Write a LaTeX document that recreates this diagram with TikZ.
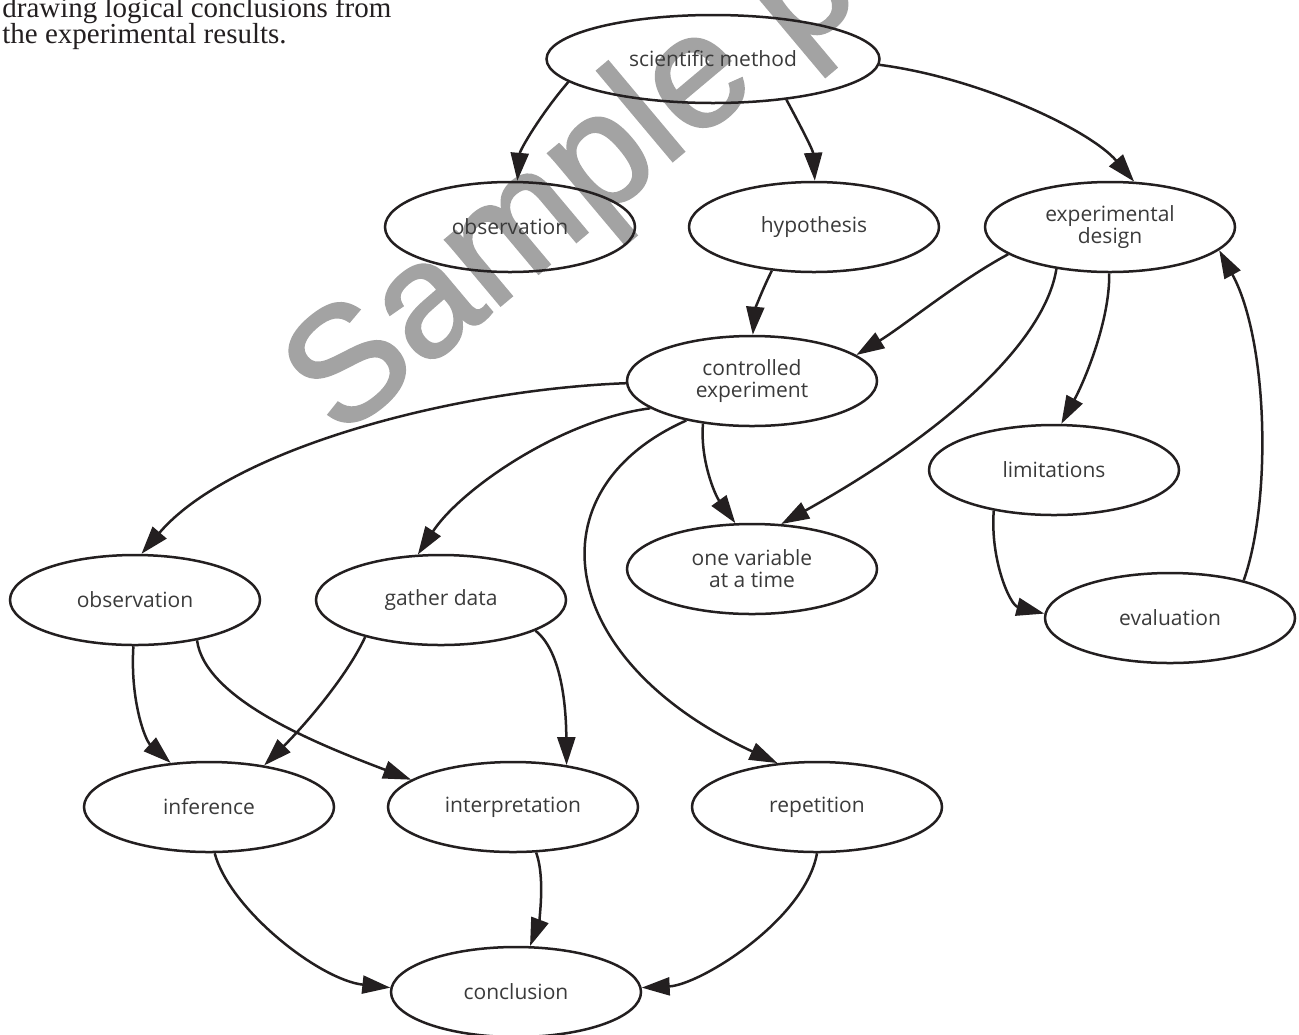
\documentclass[tikz,border=0pt]{standalone}
\usepackage{fontspec}
\setmainfont{Liberation Serif}
\newfontfamily\osans{Open Sans}
\newfontfamily\wmfont[FakeBold=1.6]{Liberation Sans}
\usetikzlibrary{shapes.geometric,arrows.meta}
\definecolor{ink}{HTML}{231F20}
\definecolor{txt}{HTML}{3A3A3A}
\definecolor{wmgray}{HTML}{A3A3A3}
\begin{document}
\begin{tikzpicture}[x=0.5pt,y=-0.5pt,
  concept/.style={ellipse,draw=ink,line width=1.25pt,minimum width=125pt,minimum height=45pt,
    inner sep=0pt,font=\osans\fontsize{10.5}{10.9}\selectfont,text=txt,align=center},
  link/.style={draw=ink,line width=1.25pt,-{Triangle[length=14pt,width=9pt]}},
  prose/.style={anchor=base west,inner sep=0pt,font=\fontsize{14.5}{17}\selectfont,text=ink}]
\useasboundingbox (0,0) rectangle (1299,1034);
% watermark
\node[rotate=40,anchor=base west,inner sep=0pt,font=\wmfont\fontsize{81}{84}\selectfont,text=wmgray] (wm) at (340,440) {Sample p};
% prose
\node[prose] (t1) at (2,17) {drawing logical conclusions from};
\node[prose] (t2) at (2,43) {the experimental results.};
% nodes
\node[concept,minimum width=166.5pt,minimum height=44pt] (sm) at (713,59) {scientific method};
\node[concept] (obs1) at (510,227) {observation};
\node[concept] (hyp) at (814,227) {hypothesis};
\node[concept] (ed) at (1110,227) {experimental\\design};
\node[concept] (ce) at (752,381) {controlled\\experiment};
\node[concept] (ov) at (752,569) {one variable\\at a time};
\node[concept] (lim) at (1054,470) {limitations};
\node[concept] (ev) at (1170,618) {evaluation};
\node[concept] (obs2) at (135,600) {observation};
\node[concept] (gd) at (441,600) {gather data};
\node[concept] (inf) at (209,807) {inference};
\node[concept] (int) at (513,807) {interpretation};
\node[concept] (rep) at (817,807) {repetition};
\node[concept] (con) at (516,992) {conclusion};
% connectors
\draw[link] (sm.189) .. controls (540,115) and (520,150) .. (obs1.81);
\draw[link] (sm.-29) .. controls (800,125) and (813,150) .. (hyp.89);
\draw[link] (sm.-2) .. controls (980,78) and (1090,130) .. (ed.62);
\draw[link] (hyp.-134) .. controls (762,290) and (755,310) .. (ce.89);
\draw[link] (ed.195) .. controls (960,280) and (905,325) .. (ce.14);
\draw[link] (ed.218) .. controls (1045,340) and (950,430) .. (ov.57);
\draw[link] (ed.-91) .. controls (1110,320) and (1085,380) .. (lim.81);
\draw[link] (lim.214) .. controls (990,560) and (1010,605) .. (ev.178);
\draw[link] (ev.27) .. controls (1272,500) and (1268,340) .. (ed.-12);
\draw[link] (ce.181) .. controls (450,390) and (230,450) .. (obs2.82);
\draw[link] (ce.195) .. controls (560,420) and (460,490) .. (gd.117);
\draw[link] (ce.221) .. controls (700,460) and (715,495) .. (ov.110);
\draw[link] (ce.211) .. controls (530,490) and (555,660) .. (rep.132);
\draw[link] (obs2.-92) .. controls (130,700) and (145,740) .. (inf.131);
\draw[link] (obs2.-33) .. controls (205,700) and (320,745) .. (int.165);
\draw[link] (gd.206) .. controls (345,680) and (300,730) .. (inf.37);
\draw[link] (gd.-18) .. controls (560,650) and (566,700) .. (int.38);
\draw[link] (inf.-83) .. controls (230,910) and (320,980) .. (con.178);
\draw[link] (int.-63) .. controls (546,880) and (538,925) .. (con.73);
\draw[link] (rep.-90) .. controls (805,920) and (700,985) .. (con.2);
\end{tikzpicture}
\end{document}
